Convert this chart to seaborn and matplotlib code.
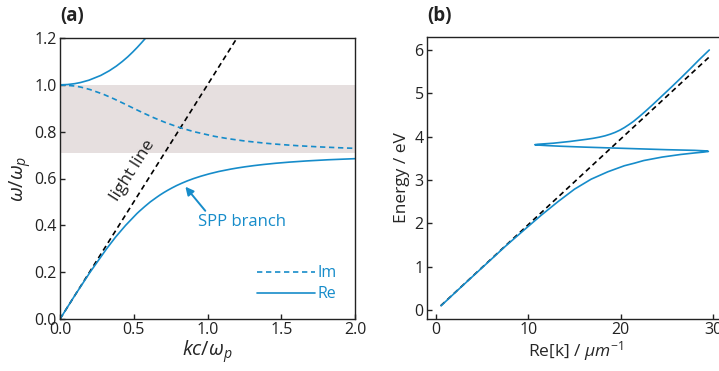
import matplotlib
matplotlib.use("Agg")
import matplotlib.pyplot as plt
import seaborn as sns

# ---- (a) normalised SPP dispersion, kc/wp vs w/wp ----
k_re_lower = [0.0, 0.100, 0.204, 0.316, 0.377, 0.445, 0.521, 0.538, 0.574, 0.612,
              0.656, 0.679, 0.704, 0.731, 0.760, 0.791, 0.826, 0.864, 0.907, 0.956,
              1.012, 1.077, 1.157, 1.203, 1.255, 1.314, 1.382, 1.461, 1.556, 1.672,
              1.818, 2.012]
w_re_lower = [0.0, 0.10, 0.20, 0.30, 0.35, 0.40, 0.45, 0.46, 0.48, 0.50,
              0.52, 0.53, 0.54, 0.55, 0.56, 0.57, 0.58, 0.59, 0.60, 0.61,
              0.62, 0.63, 0.64, 0.645, 0.65, 0.655, 0.66, 0.665, 0.67, 0.675,
              0.68, 0.685]

k_re_upper = [0.0, 0.051, 0.100, 0.140, 0.197, 0.276, 0.334, 0.382, 0.423, 0.460,
              0.493, 0.524, 0.553, 0.581]
w_re_upper = [1.0, 1.0013, 1.005, 1.01, 1.02, 1.04, 1.06, 1.08, 1.10, 1.12,
              1.14, 1.16, 1.18, 1.20]

k_im = [0.0, 0.100, 0.143, 0.203, 0.293, 0.366, 0.433, 0.498, 0.564, 0.634,
        0.711, 0.799, 0.907, 1.048, 1.140, 1.254, 1.403, 1.498, 1.613, 1.757,
        1.945, 2.014]
w_im = [1.0, 0.995, 0.99, 0.98, 0.96, 0.94, 0.92, 0.90, 0.88, 0.86,
        0.84, 0.82, 0.80, 0.78, 0.77, 0.76, 0.75, 0.745, 0.74, 0.735,
        0.73, 0.7285]

k_light_a = [0.0, 1.2]
w_light_a = [0.0, 1.2]

band_low, band_high = 0.707, 1.0

# ---- (b) lossy SPP, Re[k] in 1/um vs photon energy in eV ----
re_k = [0.54, 2.5, 5.0, 7.5, 9.6, 11.4, 13.2, 15.0, 16.8, 18.6,
        20.4, 21.5, 22.5, 24.5, 26.5, 28.0, 29.0, 29.5,
        29.3, 28.0, 25.0, 22.0, 19.0, 16.0, 13.5, 12.0, 11.0, 10.7,
        11.0, 12.7, 14.5, 16.3, 17.0, 17.7, 18.3, 18.9, 19.4, 19.9,
        20.4, 20.9, 21.4, 22.0, 22.7, 23.5, 24.5, 25.5, 26.5, 27.5,
        28.5, 29.6]
energy = [0.10, 0.49, 0.98, 1.47, 1.86, 2.19, 2.50, 2.79, 3.02, 3.19,
          3.33, 3.39, 3.45, 3.53, 3.59, 3.625, 3.645, 3.66,
          3.672, 3.685, 3.70, 3.72, 3.74, 3.76, 3.78, 3.795, 3.808, 3.815,
          3.825, 3.85, 3.89, 3.94, 3.962, 3.99, 4.02, 4.06, 4.10, 4.15,
          4.21, 4.28, 4.355, 4.46, 4.59, 4.745, 4.945, 5.145, 5.35, 5.56,
          5.775, 6.00]

k_light_b = [0.5, 29.7]
e_light_b = [0.099, 5.86]

BLUE = "#168cca"
INK = "#222222"

sns.set_style("ticks")
plt.rcParams["font.family"] = ["Open Sans", "DejaVu Sans"]
plt.rcParams["mathtext.fontset"] = "custom"
plt.rcParams["mathtext.rm"] = "Open Sans"
plt.rcParams["mathtext.it"] = "Open Sans:italic"
plt.rcParams["mathtext.bf"] = "Open Sans:bold"
plt.rcParams["axes.edgecolor"] = INK
plt.rcParams["axes.linewidth"] = 1.0

fig = plt.figure(figsize=(7.19, 3.71), dpi=100)
W, H = 719.0, 371.0
ax_a = fig.add_axes([60 / W, 1 - 319 / H, 295 / W, 281 / H])
ax_b = fig.add_axes([427.2 / W, 1 - 318.6 / H, 296.5 / W, 281.4 / H])

dash = (3.2, 2.2)

# panel (a)
ax_a.axhspan(band_low, band_high, color="#e6dfdf", lw=0, zorder=0)
sns.lineplot(x=k_light_a, y=w_light_a, ax=ax_a, color="black", lw=1.2,
             sort=False, estimator=None)
ax_a.lines[-1].set_dashes(dash)
sns.lineplot(x=k_im, y=w_im, ax=ax_a, color=BLUE, lw=1.2, sort=False,
             estimator=None, label="Im")
ax_a.lines[-1].set_dashes(dash)
sns.lineplot(x=k_re_lower, y=w_re_lower, ax=ax_a, color=BLUE, lw=1.2,
             sort=False, estimator=None, label="Re")
sns.lineplot(x=k_re_upper, y=w_re_upper, ax=ax_a, color=BLUE, lw=1.2,
             sort=False, estimator=None)

ax_a.set_xlim(0, 2.0)
ax_a.set_ylim(0, 1.2)
ax_a.set_xticks([0.0, 0.5, 1.0, 1.5, 2.0])
ax_a.set_yticks([0.0, 0.2, 0.4, 0.6, 0.8, 1.0, 1.2])
ax_a.xaxis.set_major_formatter(matplotlib.ticker.FormatStrFormatter("%.1f"))
ax_a.yaxis.set_major_formatter(matplotlib.ticker.FormatStrFormatter("%.1f"))
ax_a.set_xlabel(r"$kc/\omega_p$", fontsize=14.5, labelpad=0)
ax_a.set_ylabel(r"$\omega/\omega_p$", fontsize=14.5, labelpad=1)

ax_a.text(0.495, 0.635, "light line", rotation=57.5, fontsize=12.5,
          ha="center", va="center", color=INK)
ax_a.annotate("", xy=(0.85, 0.565), xytext=(0.985, 0.462),
              arrowprops=dict(arrowstyle="-|>", color=BLUE, lw=1.4,
                              mutation_scale=12, shrinkA=0, shrinkB=0))
ax_a.text(0.935, 0.415, "SPP branch", color=BLUE, fontsize=12,
          ha="left", va="center")

handles, labels = ax_a.get_legend_handles_labels()
leg = ax_a.legend(handles, labels, loc="lower right", frameon=False,
                  fontsize=11.5, handlelength=3.6, handletextpad=0.15,
                  labelspacing=0.3, borderaxespad=0.3,
                  bbox_to_anchor=(0.975, 0.02))
for t in leg.get_texts():
    t.set_color(BLUE)

# panel (b)
sns.lineplot(x=k_light_b, y=e_light_b, ax=ax_b, color="black", lw=1.2,
             sort=False, estimator=None)
ax_b.lines[-1].set_dashes(dash)
sns.lineplot(x=re_k, y=energy, ax=ax_b, color=BLUE, lw=1.2,
             sort=False, estimator=None)
ax_b.margins(0.05)
ax_b.set_xticks([0, 10, 20, 30])
ax_b.set_yticks([0, 1, 2, 3, 4, 5, 6])
ax_b.set_xlabel(r"Re[k] / $\mu m^{-1}$", fontsize=12.5, labelpad=1)
ax_b.set_ylabel("Energy / eV", fontsize=12.5, labelpad=3)

for ax in (ax_a, ax_b):
    ax.tick_params(direction="in", length=3.5, width=1.0, colors=INK,
                   labelsize=11.5, pad=2.5)
    for s in ax.spines.values():
        s.set_visible(True)
        s.set_color(INK)

fig.text(60 / W, 1 - 16 / H, "(a)", fontsize=13.5, fontweight="bold",
         ha="left", va="center", color=INK)
fig.text(427 / W, 1 - 16 / H, "(b)", fontsize=13.5, fontweight="bold",
         ha="left", va="center", color=INK)

fig.savefig("out.png", dpi=100)
